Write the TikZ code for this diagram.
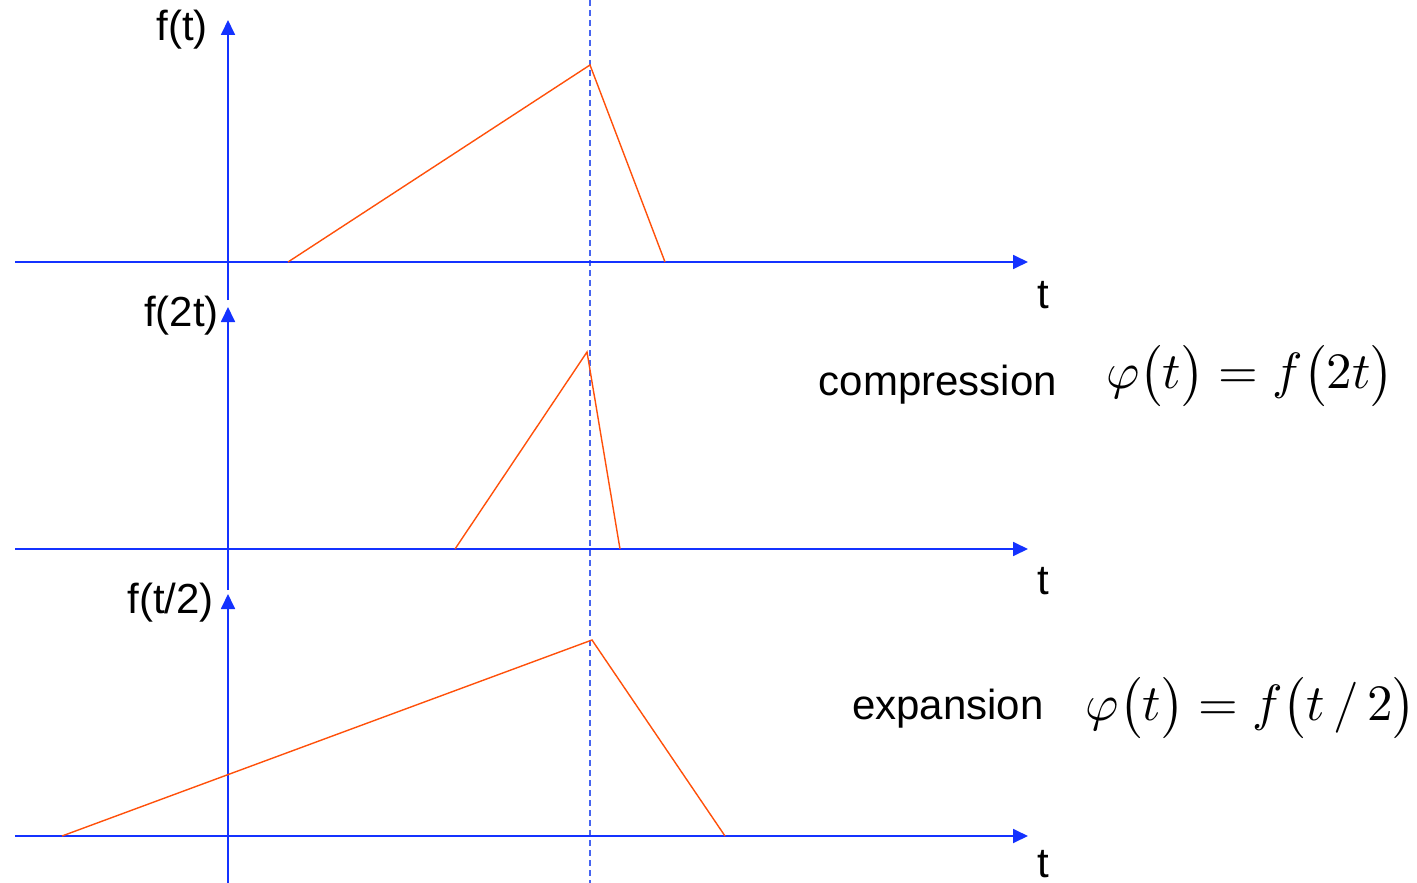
\documentclass[tikz,border=0pt]{standalone}
\usepackage[no-math]{fontspec}
\setmainfont{Liberation Sans}
\usetikzlibrary{arrows.meta}
\definecolor{axblue}{RGB}{20,50,255}
\definecolor{dashblue}{RGB}{70,100,240}
\definecolor{sigor}{RGB}{255,80,10}
\tikzset{
  axis/.style={draw=axblue, line width=1.8pt, -{Triangle[length=15pt,width=14pt]}},
  sig/.style={draw=sigor, line width=1.4pt, line join=miter},
  lbl/.style={font=\fontsize{42}{48}\selectfont, inner sep=0pt},
  frm/.style={font=\fontsize{10}{12}\selectfont, inner sep=0pt, scale=5.1}
}
\begin{document}
\begin{tikzpicture}[x=1pt,y=-1pt]
\useasboundingbox (0,0) rectangle (1417,883);
% dashed reference line
\coordinate (dtop) at (590,0);
\coordinate (dbot) at (590,883);
\draw[dashblue, line width=1.3pt, dash pattern=on 6pt off 4pt] (dtop) -- (dbot);
% axes
\coordinate (h1s) at (15,262); \coordinate (h1e) at (1028,262);
\coordinate (h2s) at (15,549); \coordinate (h2e) at (1028,549);
\coordinate (h3s) at (15,836); \coordinate (h3e) at (1028,836);
\coordinate (v1s) at (228,300); \coordinate (v1e) at (228,20);
\coordinate (v2s) at (228,590); \coordinate (v2e) at (228,307);
\coordinate (v3s) at (228,883); \coordinate (v3e) at (228,594);
\draw[axis] (h1s) -- (h1e);
\draw[axis] (h2s) -- (h2e);
\draw[axis] (h3s) -- (h3e);
\draw[axis] (v1s) -- (v1e);
\draw[axis] (v2s) -- (v2e);
\draw[axis] (v3s) -- (v3e);
% signals
\coordinate (a1) at (288,262); \coordinate (p1) at (590,65); \coordinate (b1) at (665,262);
\coordinate (a2) at (455,549); \coordinate (p2) at (587,352); \coordinate (b2) at (620,549);
\coordinate (a3) at (62,836); \coordinate (p3) at (592,640); \coordinate (b3) at (725,836);
\draw[sig] (a1) -- (p1) -- (b1);
\draw[sig] (a2) -- (p2) -- (b2);
\draw[sig] (a3) -- (p3) -- (b3);
% labels
\node[lbl, anchor=east] (l1) at (208,30) {f(t)};
\node[lbl, anchor=east] (l2) at (219,316) {f(2t)};
\node[lbl, anchor=east] (l3) at (214,603) {f(t/2)};
\node[lbl] (t1) at (1043,295) {t};
\node[lbl] (t2) at (1043,581) {t};
\node[lbl] (t3) at (1043,864) {t};
\node[lbl] (c) at (938,385) {compression};
\node[lbl] (e) at (948,709) {expansion};
\node[frm] (f1) at (1250,376) {$\varphi\bigl(t\bigr)=f\bigl(2t\bigr)$};
\node[frm] (f2) at (1251,708) {$\varphi\bigl(t\bigr)=f\bigl(t\,/\,2\bigr)$};
\end{tikzpicture}
\end{document}
